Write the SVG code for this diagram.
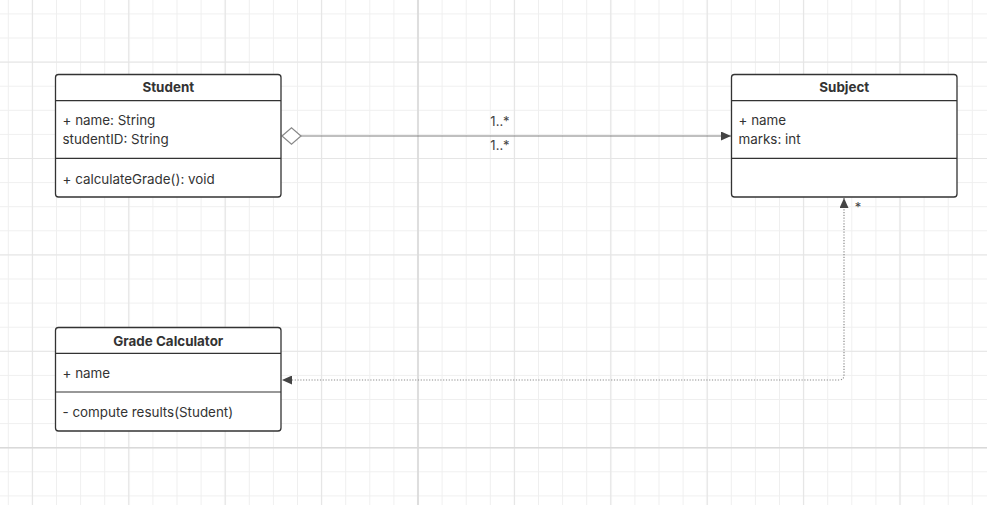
<svg xmlns="http://www.w3.org/2000/svg" width="987" height="505" viewBox="0 0 987 505">
<defs>
<style>
.box{fill:#ffffff;stroke:#333333;stroke-width:1.3}
.div{stroke:#333333;stroke-width:1.2}
.t{font-family:Inter,"Liberation Sans",sans-serif;font-size:13.4px;fill:#333333}
.title{font-family:Inter,"Liberation Sans",sans-serif;font-size:13.4px;font-weight:bold;fill:#333333;text-anchor:middle}
.lbl{font-family:Inter,"Liberation Sans",sans-serif;font-size:13px;fill:#444444;text-anchor:middle}
.conn{fill:none;stroke:#808080;stroke-width:1.2}
.dot{fill:none;stroke:#8a8a8a;stroke-width:1.2;stroke-dasharray:1.2 1.6}
</style>
<pattern id="minor" patternUnits="userSpaceOnUse" x="-3.75" y="1.85" width="24.1" height="24.1">
<path d="M12.05 0V24.1M0 12.05H24.1" stroke="#efefef" stroke-width="1" fill="none"/>
</pattern>
<pattern id="major" patternUnits="userSpaceOnUse" x="-15.8" y="13.9" width="96.4" height="96.4">
<path d="M48.2 0V96.4M0 48.2H96.4" stroke="#e5e5e5" stroke-width="1.2" fill="none"/>
</pattern>
<marker id="arr" markerUnits="userSpaceOnUse" markerWidth="10" markerHeight="9" refX="10" refY="4.5" orient="auto-start-reverse" viewBox="0 0 10 9">
<path d="M0 0L10 4.5L0 9z" fill="#444444"/>
</marker>
</defs>
<rect width="987" height="505" fill="#ffffff"/>
<g id="grid">
<rect width="987" height="505" fill="url(#minor)"/>
<rect width="987" height="505" fill="url(#major)"/>
<path d="M418 0V505M0 447.7H987" stroke="#d9d9d9" stroke-width="1.5"/>
</g>
<g id="connectors">
<path class="conn" d="M301 136H731" marker-end="url(#arr)"/>
<path d="M282 136L291.5 127.7L301 136L291.5 144.3Z" fill="#ffffff" stroke="#888888" stroke-width="1.2"/>
<text class="lbl" x="500" y="126">1..*</text>
<text class="lbl" x="500" y="150">1..*</text>
<path class="dot" d="M844 198V375Q844 380 839 380H282" marker-start="url(#arr)" marker-end="url(#arr)"/>
<text class="lbl" x="858" y="212">*</text>
</g>
<g id="student">
<rect class="box" x="55.5" y="74.5" width="225.5" height="122.5" rx="3"/>
<line class="div" x1="55.5" y1="100.7" x2="281" y2="100.7"/>
<line class="div" x1="55.5" y1="158.3" x2="281" y2="158.3"/>
<text class="title" x="168.3" y="92.3">Student</text>
<text class="t" x="62.5" y="124.8">+ name: String</text>
<text class="t" x="62.5" y="144.3">studentID: String</text>
<text class="t" x="62.5" y="183.8">+ calculateGrade(): void</text>
</g>
<g id="subject">
<rect class="box" x="731.5" y="74.5" width="225.5" height="122.5" rx="3"/>
<line class="div" x1="731.5" y1="100.7" x2="957" y2="100.7"/>
<line class="div" x1="731.5" y1="158.3" x2="957" y2="158.3"/>
<text class="title" x="844.3" y="92.3">Subject</text>
<text class="t" x="738.5" y="124.8">+ name</text>
<text class="t" x="738.5" y="144.3">marks: int</text>
</g>
<g id="grade-calculator">
<rect class="box" x="55.5" y="327.5" width="225.5" height="103.5" rx="3"/>
<line class="div" x1="55.5" y1="353.3" x2="281" y2="353.3"/>
<line class="div" x1="55.5" y1="392" x2="281" y2="392"/>
<text class="title" x="168.3" y="346">Grade Calculator</text>
<text class="t" x="62.5" y="378">+ name</text>
<text class="t" x="62.5" y="417">- compute results(Student)</text>
</g>
</svg>
